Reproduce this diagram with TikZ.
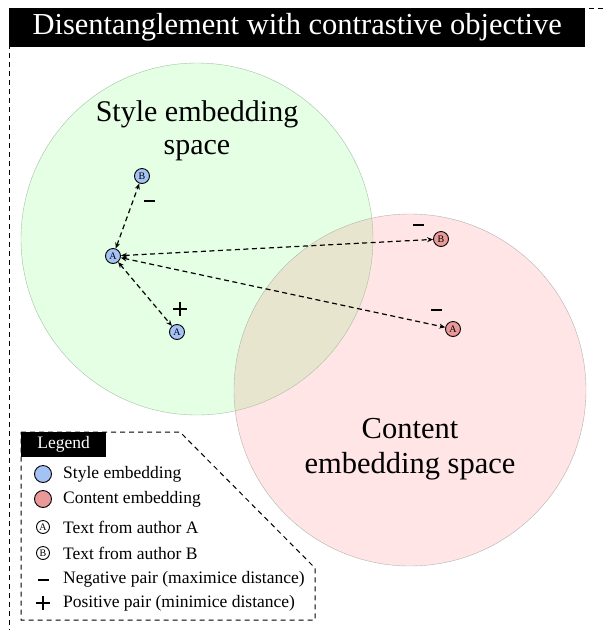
\documentclass[tikz,border=0pt]{standalone}
\usepackage{fontspec}
\setmainfont{Liberation Serif}
\usetikzlibrary{arrows.meta,positioning}
\tikzset{>={Stealth[length=6pt,width=5pt,inset=2pt]}}
\definecolor{stylefill}{HTML}{A4C2F4}
\definecolor{contentfill}{HTML}{EA9999}
\tikzset{
  emb/.style={circle,draw,line width=0.9pt,minimum size=15pt,inner sep=0pt,font=\fontsize{10}{10}\selectfont},
  styleemb/.style={emb,fill=stylefill},
  contentemb/.style={emb,fill=contentfill},
  pair/.style={<->,line width=1.2pt,dash pattern=on 5pt off 3.5pt},
  frame/.style={line width=1pt,dash pattern=on 5pt off 4pt},
  negsign/.style={minimum size=14pt,inner sep=0pt,
    path picture={\fill ([shift={(-5.5pt,-1.4pt)}]path picture bounding box.center) rectangle ++(11pt,2.8pt);}},
  possign/.style={negsign,
    path picture={\fill ([shift={(-7pt,-1.4pt)}]path picture bounding box.center) rectangle ++(14pt,2.8pt);
      \fill ([shift={(-1.4pt,-7pt)}]path picture bounding box.center) rectangle ++(2.8pt,14pt);}},
  legtext/.style={anchor=west,inner sep=0pt,font=\fontsize{17.5}{17.5}\selectfont},
  tag/.style={fill=black,text=white,inner sep=0pt,anchor=north west}
}

\begin{document}
\begin{tikzpicture}[x=1pt,y=1pt]
	\useasboundingbox (0,0) rectangle (603,-630);
	% embedding spaces
	\fill[green,opacity=0.1] (197,-239) circle (176);
	\fill[red,opacity=0.1] (410,-390) circle (176);
	\draw[green!20!gray!60] (197,-239) circle (176);
	\draw[gray!60] (410,-390) circle (176);
	\node[align=center,font=\fontsize{30}{33}\selectfont] (stylelbl) at (197,-131) {Style embedding\\space};
	\node[align=center,font=\fontsize{30.5}{35}\selectfont] (contentlbl) at (410,-449) {Content\\embedding space};
	% outer frame and title
	\draw[frame] (603,-8) -- (9,-8) -- (9,-630);
	\node[tag,minimum width=576pt,minimum height=39pt,font=\fontsize{30.5}{30.5}\selectfont] (title) at (9,-8) {Disentanglement with contrastive objective};
	% embeddings
	\node[styleemb] (sA) at (113,-256) {A};
	\node[styleemb] (sB) at (142,-176) {B};
	\node[styleemb] (sA2) at (177,-332) {A};
	\node[contentemb] (cB) at (441,-239) {B};
	\node[contentemb] (cA) at (453,-329) {A};
	\draw[pair] (sA) -- (sB);
	\draw[pair] (sA) -- (sA2);
	\draw[pair] (sA) -- (cB);
	\draw[pair] (sA) -- (cA);
	\node[negsign] (n1) at (149,-201) {};
	\node[possign] (p1) at (180,-309) {};
	\node[negsign] (n2) at (418,-225) {};
	\node[negsign] (n3) at (436,-310) {};
	% legend
	\draw[frame] (21,-432) -- (180,-432) -- (315,-568) -- (315,-620) -- (21,-620) -- cycle;
	\node[tag,minimum width=85pt,minimum height=25pt,font=\fontsize{17.5}{17.5}\selectfont] (legend) at (21,-432) {Legend};
	\node[emb,fill=stylefill,minimum size=17pt] (lstyle) at (43,-474) {};
	\node[emb,fill=contentfill,minimum size=17pt] (lcontent) at (43,-499) {};
	\node[emb,minimum size=13pt] (lA) at (43,-527) {A};
	\node[emb,minimum size=13pt] (lB) at (43,-553) {B};
	\node[negsign] (lneg) at (43,-580) {};
	\node[possign] (lpos) at (43,-603) {};
	\node[legtext] at (63,-474) {Style embedding};
	\node[legtext] at (63,-499) {Content embedding};
	\node[legtext] at (63,-527) {Text from author A};
	\node[legtext] at (63,-553) {Text from author B};
	\node[legtext] at (63,-579) {Negative pair (maximice distance)};
	\node[legtext] at (63,-603) {Positive pair (minimice distance)};
\end{tikzpicture}
\end{document}
